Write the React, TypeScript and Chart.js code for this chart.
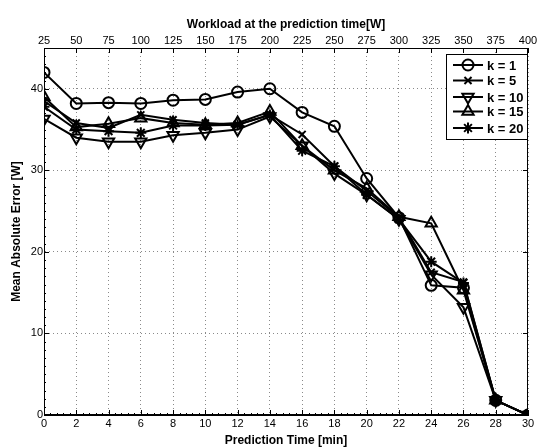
import React, { useEffect, useRef } from "react";
import { Chart, registerables } from "chart.js";
import { drawPoint } from "chart.js/helpers";

Chart.register(...registerables);

const predictionTime = [0, 2, 4, 6, 8, 10, 12, 14, 16, 18, 20, 22, 24, 26, 28, 30];
const k1 = [42.0, 38.2, 38.3, 38.2, 38.6, 38.7, 39.6, 40.0, 37.1, 35.4, 29.0, 24.2, 15.9, 15.6, 1.8, 0];
const k5 = [38.5, 35.8, 35.2, 36.8, 36.2, 35.8, 35.6, 36.8, 34.4, 30.5, 27.5, 24.2, 17.5, 16.3, 1.8, 0];
const k10 = [36.3, 34.0, 33.5, 33.5, 34.3, 34.6, 35.0, 36.6, 33.0, 29.6, 27.0, 24.0, 17.2, 13.2, 1.8, 0];
const k15 = [39.0, 35.3, 35.7, 36.4, 35.8, 35.6, 35.8, 37.2, 33.0, 30.0, 27.8, 24.3, 23.5, 15.3, 1.8, 0];
const k20 = [37.8, 35.0, 34.8, 34.6, 35.5, 35.5, 35.6, 36.8, 32.4, 30.5, 27.0, 24.0, 18.8, 16.2, 1.8, 0];
const seriesLabels = ["k = 1", "k = 5", "k = 10", "k = 15", "k = 20"];
const yTicks = [0, 10, 20, 30, 40];

const FONT = "'Liberation Sans', Arial, Helvetica, sans-serif";

type Marker = { style: any; rotation: number; radius: number };
const markers: Marker[] = [
  { style: "circle", rotation: 0, radius: 5.5 },
  { style: "crossRot", rotation: 0, radius: 5 },
  { style: "triangle", rotation: 180, radius: 6.5 },
  { style: "triangle", rotation: 0, radius: 6.5 },
  { style: "star", rotation: 0, radius: 5.5 },
];

const boxPlugin = {
  id: "boxAndLegend",
  afterDraw(chart: any) {
    const ctx = chart.ctx;
    const a = chart.chartArea;
    const xs = chart.scales.x;
    const ys = chart.scales.y;
    ctx.save();
    ctx.strokeStyle = "#000";
    ctx.lineWidth = 1;
    ctx.strokeRect(a.left + 0.5, a.top + 0.5, a.right - a.left - 1, a.bottom - a.top - 1);
    ctx.beginPath();
    for (let v = 0; v <= 30; v += 2) {
      const px = Math.round(xs.getPixelForValue(v)) + 0.5;
      ctx.moveTo(px, a.bottom);
      ctx.lineTo(px, a.bottom - 5);
      ctx.moveTo(px, a.top);
      ctx.lineTo(px, a.top + 5);
    }
    for (const v of yTicks) {
      const py = Math.round(ys.getPixelForValue(v)) + 0.5;
      ctx.moveTo(a.left, py);
      ctx.lineTo(a.left + 5, py);
      ctx.moveTo(a.right, py);
      ctx.lineTo(a.right - 5, py);
    }
    for (let v = 0; v <= 30; v += 0.4) {
      const px = Math.round(xs.getPixelForValue(v)) + 0.5;
      ctx.moveTo(px, a.bottom);
      ctx.lineTo(px, a.bottom - 2);
    }
    for (let v = 0; v <= 45; v += 1) {
      const py = Math.round(ys.getPixelForValue(v)) + 0.5;
      ctx.moveTo(a.left, py);
      ctx.lineTo(a.left + 2, py);
    }
    ctx.stroke();

    const bx = a.right - 82;
    const by = a.top + 6;
    const bw = 81;
    const bh = 85;
    ctx.fillStyle = "#fff";
    ctx.fillRect(bx, by, bw, bh);
    ctx.lineWidth = 1;
    ctx.strokeRect(bx + 0.5, by + 0.5, bw, bh);
    const rows = [11, 26.5, 43, 57.5, 74];
    ctx.font = `bold 13px ${FONT}`;
    ctx.textBaseline = "middle";
    seriesLabels.forEach((lab, i) => {
      const y = by + rows[i];
      ctx.strokeStyle = "#000";
      ctx.lineWidth = 2;
      ctx.beginPath();
      ctx.moveTo(bx + 7, y);
      ctx.lineTo(bx + 37, y);
      ctx.stroke();
      const m = markers[i];
      ctx.fillStyle = "rgba(0,0,0,0)";
      drawPoint(ctx, { pointStyle: m.style, rotation: m.rotation, radius: m.radius, borderWidth: 2 }, bx + 22, y);
      ctx.fillStyle = "#000";
      ctx.fillText(lab, bx + 41, y + 1);
    });
    ctx.restore();
  },
};

export default function App() {
  const ref = useRef<HTMLCanvasElement | null>(null);
  useEffect(() => {
    document.body.style.margin = "0";
    const series = [k1, k5, k10, k15, k20];
    const chart = new Chart(ref.current!, {
      type: "line",
      data: {
        datasets: series.map((s, i) => ({
          label: seriesLabels[i],
          data: predictionTime.map((t, j) => ({ x: t, y: s[j] })),
          borderColor: "#000",
          backgroundColor: "rgba(0,0,0,0)",
          borderWidth: 2,
          pointStyle: markers[i].style,
          rotation: markers[i].rotation,
          pointRadius: markers[i].radius,
          pointBorderWidth: 2,
          pointBorderColor: "#000",
          pointBackgroundColor: "rgba(0,0,0,0)",
          tension: 0,
          xAxisID: "x",
        })),
      },
      options: {
        animation: false,
        responsive: false,
        layout: { padding: { right: 13, left: 0, top: 0, bottom: 0 } },
        plugins: { legend: { display: false }, tooltip: { enabled: false } },
        scales: {
          x: {
            type: "linear",
            position: "bottom",
            min: 0,
            max: 30,
            ticks: { stepSize: 2, color: "#000", font: { family: FONT, size: 11 }, padding: 2, maxRotation: 0 },
            grid: { color: "#8a8a8a", drawTicks: false, lineWidth: 1 },
            border: { display: true, color: "#000", dash: [1, 3] },
            title: { display: true, text: "Prediction Time [min]", color: "#000", font: { family: FONT, size: 12, weight: "bold" }, padding: { top: 0, bottom: 0 } },
            afterFit: (s: any) => { s.height = 33; },
          },
          x2: {
            type: "linear",
            position: "top",
            min: 25,
            max: 400,
            ticks: { stepSize: 25, color: "#000", font: { family: FONT, size: 11 }, padding: 0, maxRotation: 0 },
            grid: { display: false, drawTicks: false },
            border: { display: true, color: "#000" },
            title: { display: true, text: "Workload at the prediction time[W]", color: "#000", font: { family: FONT, size: 12, weight: "bold" }, padding: { top: 17, bottom: 0 } },
            afterFit: (s: any) => { s.height = 48; },
          },
          y: {
            type: "linear",
            min: 0,
            max: 45,
            afterBuildTicks: (s: any) => { s.ticks = yTicks.map((v) => ({ value: v })); },
            ticks: { color: "#000", font: { family: FONT, size: 11 }, padding: 1 },
            grid: { color: "#8a8a8a", drawTicks: false, lineWidth: 1 },
            border: { display: true, color: "#000", dash: [1, 3] },
            title: { display: true, text: "Mean Absolute Error [W]", color: "#000", font: { family: FONT, size: 12, weight: "bold" }, padding: { top: 9, bottom: 0 } },
            afterFit: (s: any) => { s.width = 44; },
          },
        },
      } as any,
      plugins: [boxPlugin],
    });
    return () => chart.destroy();
  }, []);
  return (
    <div style={{ width: 541, height: 448, background: "#fff" }}>
      <canvas ref={ref} width={541} height={448} style={{ display: "block" }} />
    </div>
  );
}
